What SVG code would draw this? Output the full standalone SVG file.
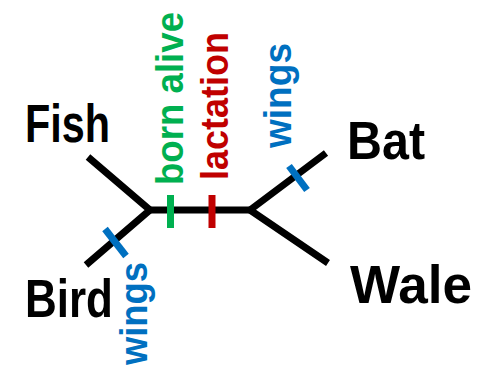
<svg xmlns="http://www.w3.org/2000/svg" width="477" height="366" viewBox="0 0 477 366">
  <style>
    .branch { stroke: #000; stroke-width: 7; fill: none; stroke-linecap: butt; stroke-linejoin: miter; }
    .tick { stroke-width: 7; fill: none; }
    .taxon { font-family: "Liberation Sans", Arial, sans-serif; font-weight: bold; font-size: 53px; fill: #000; }
    .trait { font-family: "Liberation Sans", Arial, sans-serif; font-weight: bold; font-size: 38px; }
    .green { fill: #00b050; stroke: #00b050; }
    .red { fill: #c00000; stroke: #c00000; }
    .blue { fill: #0070c0; stroke: #0070c0; }
    text.green, text.red, text.blue { stroke: none; }
  </style>

  <!-- tree branches -->
  <g id="connectors">
    <polyline class="branch" points="88,157 150,210 86,265"/>
    <line class="branch" x1="150" y1="210" x2="250" y2="210"/>
    <polyline class="branch" points="326,153 250,210 328,263"/>
  </g>

  <!-- character changes marked on branches -->
  <g id="trait-born-alive">
    <line class="tick green" x1="170.5" y1="195" x2="170.5" y2="228"/>
    <text class="trait green" transform="translate(183,185) rotate(-90)" textLength="173" lengthAdjust="spacingAndGlyphs">born alive</text>
  </g>
  <g id="trait-lactation">
    <line class="tick red" x1="212" y1="195" x2="212" y2="228"/>
    <text class="trait red" transform="translate(228,180) rotate(-90)" textLength="148" lengthAdjust="spacingAndGlyphs">lactation</text>
  </g>
  <g id="trait-wings-bird">
    <line class="tick blue" x1="105" y1="229" x2="126" y2="256"/>
    <text class="trait blue" transform="translate(147,365) rotate(-90)" textLength="103" lengthAdjust="spacingAndGlyphs">wings</text>
  </g>
  <g id="trait-wings-bat">
    <line class="tick blue" x1="289" y1="166" x2="307" y2="190"/>
    <text class="trait blue" transform="translate(291,148) rotate(-90)" textLength="105" lengthAdjust="spacingAndGlyphs">wings</text>
  </g>

  <!-- taxa -->
  <g id="node-fish"><text class="taxon" x="25" y="142" textLength="85" lengthAdjust="spacingAndGlyphs">Fish</text></g>
  <g id="node-bird"><text class="taxon" x="25" y="317" textLength="88" lengthAdjust="spacingAndGlyphs">Bird</text></g>
  <g id="node-bat"><text class="taxon" x="347" y="159" textLength="78" lengthAdjust="spacingAndGlyphs">Bat</text></g>
  <g id="node-wale"><text class="taxon" x="350" y="303" textLength="122" lengthAdjust="spacingAndGlyphs">Wale</text></g>
</svg>
